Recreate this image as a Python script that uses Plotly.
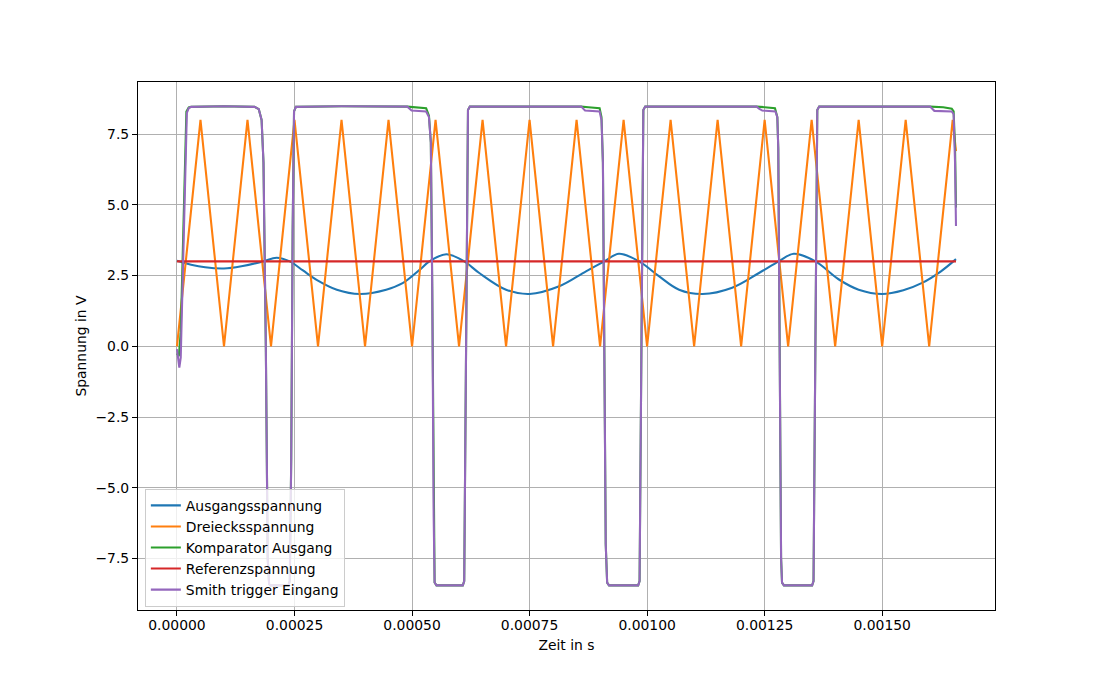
import plotly.graph_objects as go

# ---------------- data ----------------
# Ausgangsspannung (time in microseconds, value in V)
aus_t_us = [0, 30, 60, 100, 140, 183, 212, 240, 268, 297, 340, 389, 445, 480, 516, 537,
            573, 611, 643, 700, 750, 813, 870, 909, 940, 983, 1025, 1068, 1118, 1181,
            1238, 1280, 1312, 1358, 1408, 1450, 1500, 1545, 1585, 1625, 1657]
aus_v = [3.02, 2.88, 2.79, 2.75, 2.84, 3.0, 3.13, 3.0, 2.68, 2.35, 2.0, 1.85, 2.0, 2.23, 2.7, 3.0,
         3.25, 3.0, 2.59, 2.0, 1.85, 2.12, 2.65, 3.0, 3.27, 3.0, 2.48, 2.0, 1.85, 2.07,
         2.59, 3.0, 3.27, 3.0, 2.36, 2.0, 1.85, 1.98, 2.24, 2.65, 3.08]

# Dreiecksspannung vertices
drei_t_us = [0, 50, 100, 150, 200, 250, 300, 350, 400, 450, 500, 550, 600, 650, 700, 750,
             800, 850, 900, 950, 1000, 1050, 1100, 1150, 1200, 1250, 1300, 1350, 1400,
             1450, 1500, 1550, 1600, 1650, 1657]
drei_v = [0, 8, 0, 8, 0, 8, 0, 8, 0, 8, 0, 8, 0, 8, 0, 8,
          0, 8, 0, 8, 0, 8, 0, 8, 0, 8, 0, 8, 0,
          8, 0, 8, 0, 8, 6.9]

# Komparator Ausgang
komp_t_us = [0, 4, 8, 20, 25, 30, 100, 165, 174, 180, 184, 189, 193, 196, 199,
             237, 240, 243, 246, 249, 253, 350, 490, 505, 530, 536, 540, 543, 546, 548, 552,
             608, 611, 614, 617, 619, 623, 750, 860, 875, 899, 903, 906, 909, 912, 915, 919,
             981, 984, 987, 990, 992, 996, 1100, 1233, 1250, 1272, 1277, 1279, 1282, 1285, 1287, 1291,
             1351, 1354, 1357, 1360, 1362, 1366, 1500, 1602, 1630, 1648, 1652, 1655, 1657]
komp_v = [-0.25, -0.35, 0.5, 8.3, 8.44, 8.46, 8.48, 8.46, 8.38, 8.0, 6.5, 0, -7.5, -8.4, -8.45,
          -8.45, -8.3, -4, 4, 8.3, 8.46, 8.48, 8.47, 8.45, 8.41, 8.15, 7.2, 2, -6, -8.35, -8.45,
          -8.45, -8.3, -3, 5, 8.35, 8.47, 8.48, 8.47, 8.45, 8.41, 8.1, 6.5, 0, -7, -8.35, -8.45,
          -8.45, -8.3, -2, 6, 8.35, 8.47, 8.48, 8.47, 8.45, 8.41, 8.1, 7, 0, -7.5, -8.35, -8.45,
          -8.45, -8.3, -2, 6, 8.35, 8.47, 8.48, 8.47, 8.45, 8.4, 8.3, 7.0, 4.9]

# Referenzspannung
ref_t_us = [0, 1657]
ref_v = [3.0, 3.0]

# Smith trigger Eingang
smith_t_us = [0, 3, 5, 8, 21, 25, 30, 100, 165, 174, 180, 184, 189, 193, 196, 199,
              237, 240, 243, 246, 249, 253, 350, 490, 494, 499, 530, 536, 540, 543, 546, 548, 552,
              608, 611, 614, 617, 619, 623, 750, 860, 864, 868, 899, 903, 906, 909, 912, 915, 919,
              981, 984, 987, 990, 992, 996, 1100, 1233, 1238, 1245, 1273, 1277, 1279, 1282, 1285, 1287, 1291,
              1351, 1354, 1357, 1360, 1362, 1366, 1500, 1602, 1606, 1611, 1648, 1652, 1655, 1657]
smith_v = [-0.1, -0.55, -0.75, -0.4, 8.25, 8.42, 8.46, 8.48, 8.46, 8.38, 8.0, 6.5, 0, -7.5, -8.4, -8.45,
           -8.45, -8.3, -4, 4, 8.3, 8.46, 8.48, 8.47, 8.42, 8.33, 8.3, 8.1, 7.2, 2, -6, -8.35, -8.45,
           -8.45, -8.3, -3, 5, 8.35, 8.47, 8.48, 8.47, 8.4, 8.33, 8.3, 8.0, 6.5, 0, -7, -8.35, -8.45,
           -8.45, -8.3, -2, 6, 8.35, 8.47, 8.48, 8.47, 8.4, 8.33, 8.3, 8.1, 7, 0, -7.5, -8.35, -8.45,
           -8.45, -8.3, -2, 6, 8.35, 8.47, 8.48, 8.47, 8.4, 8.32, 8.3, 8.2, 6.5, 4.25]

x_tickvals = [0, 0.00025, 0.0005, 0.00075, 0.001, 0.00125, 0.0015]
y_tickvals = [-7.5, -5.0, -2.5, 0.0, 2.5, 5.0, 7.5]

# ---------------- figure ----------------
def s(us):
    return [u * 1e-6 for u in us]

LW = 2.08
fig = go.Figure()
fig.add_trace(go.Scatter(x=s(aus_t_us), y=aus_v, mode="lines", name="Ausgangsspannung",
                         line=dict(color="#1f77b4", width=LW, shape="spline", smoothing=1.0)))
fig.add_trace(go.Scatter(x=s(drei_t_us), y=drei_v, mode="lines", name="Dreiecksspannung",
                         line=dict(color="#ff7f0e", width=LW)))
fig.add_trace(go.Scatter(x=s(komp_t_us), y=komp_v, mode="lines", name="Komparator Ausgang",
                         line=dict(color="#2ca02c", width=LW)))
fig.add_trace(go.Scatter(x=s(ref_t_us), y=ref_v, mode="lines", name="Referenzspannung",
                         line=dict(color="#d62728", width=LW)))
fig.add_trace(go.Scatter(x=s(smith_t_us), y=smith_v, mode="lines", name="Smith trigger Eingang",
                         line=dict(color="#9467bd", width=LW)))

axis_common = dict(
    showline=True, linecolor="black", linewidth=1.1, mirror=True,
    ticks="outside", ticklen=5, tickwidth=1.1, tickcolor="black",
    showgrid=True, gridcolor="#b0b0b0", gridwidth=1.1, zeroline=False,
    tickfont=dict(family="DejaVu Sans", size=13.9, color="black"),
)
fig.update_xaxes(range=[-0.0000829, 0.00174], tickvals=x_tickvals, tickformat=".5f",
                 ticklabelstandoff=-3,
                 title=dict(text="Zeit in s", font=dict(family="DejaVu Sans", size=13.9, color="black"),
                            standoff=8),
                 **axis_common)
fig.update_yaxes(range=[-9.32, 9.34], tickvals=y_tickvals, tickformat=".1f",
                 title=dict(text="Spannung in V", font=dict(family="DejaVu Sans", size=13.9, color="black"),
                            standoff=5),
                 **axis_common)

fig.update_layout(
    width=1106, height=686,
    margin=dict(l=138, r=111, t=82, b=76),
    paper_bgcolor="white", plot_bgcolor="white",
    showlegend=True,
    legend=dict(x=0.008, y=0.006, xanchor="left", yanchor="bottom",
                bgcolor="rgba(255,255,255,0.8)", bordercolor="#cccccc", borderwidth=1,
                font=dict(family="DejaVu Sans", size=13.9, color="black"),
                tracegroupgap=0, itemwidth=30),
    font=dict(family="DejaVu Sans", size=13.9, color="black"),
)

fig.write_html("out.html")
